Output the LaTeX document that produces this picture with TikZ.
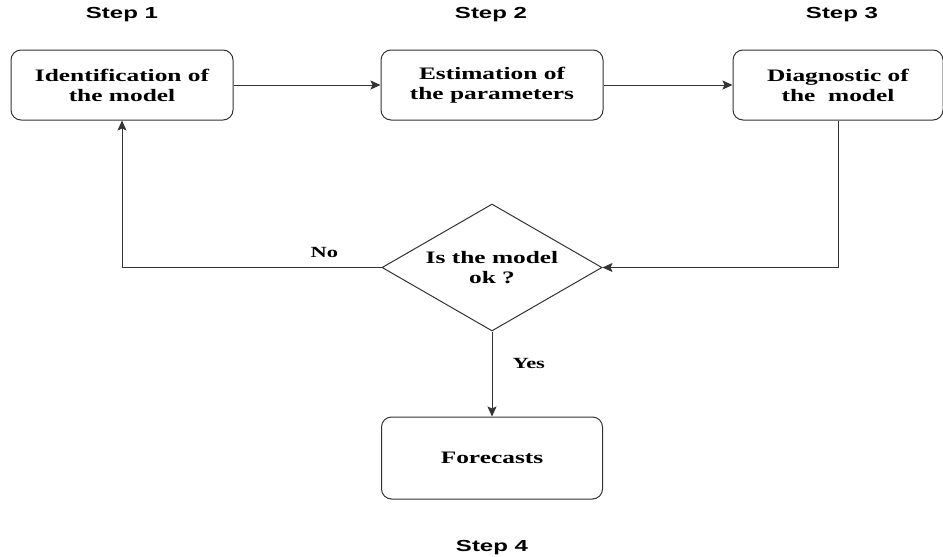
\documentclass[tikz,border=0pt]{standalone}
\usepackage{fontspec}
\newfontfamily\boxfont[FakeStretch=1.45]{Liberation Serif}
\newfontfamily\stepfont[FakeStretch=1.5]{Liberation Sans}
\usetikzlibrary{positioning,shapes.geometric,arrows.meta}
\definecolor{linegray}{HTML}{333333}

\begin{document}
\begin{tikzpicture}
    [x=1pt, y=-1pt,
    node distance=147pt,
    line width=1pt,
    arr/.style={draw=linegray, -{Stealth[length=10pt,width=9pt,inset=2pt]}},
    box/.style={draw=linegray, rounded corners=10pt, minimum width=222pt, minimum height=70pt,
        align=center, inner sep=2pt, font=\boxfont\bfseries\fontsize{17.5}{20}\selectfont},
    decision/.style={draw=linegray, diamond, aspect=1.73, inner sep=0pt, minimum width=220pt,
        minimum height=127pt, align=center, font=\boxfont\bfseries\fontsize{17.5}{20}\selectfont},
    steplabel/.style={inner sep=0pt, font=\stepfont\bfseries\fontsize{16}{18}\selectfont},
    answer/.style={inner sep=0pt, font=\boxfont\bfseries\fontsize{15.5}{18}\selectfont}]
        \useasboundingbox (0,0) rectangle (943,557);
        %% the three steps
        \node[box] (ident) at (122,85) {Identification of\\the model};
        \node[box, right=147pt of ident] (estim) {Estimation of\\the parameters};
        \node[box, right=129pt of estim, minimum width=210pt] (diagn) {Diagnostic of\\the\ \ model};
        %% check and forecast
        \node[decision, below=83pt of estim] (okq) {Is the model\\ok ?};
        \node[box, below=85pt of okq, minimum width=221pt, minimum height=82pt] (fcast) {Forecasts};
        %% step labels
        \node[steplabel] (s1) at (122,15) {Step 1};
        \node[steplabel] (s2) at (491,15) {Step 2};
        \node[steplabel] (s3) at (842,15) {Step 3};
        \node[steplabel, below=40pt of fcast] (s4) {Step 4};

        \draw[arr] (ident) -- (estim);
        \draw[arr] (estim) -- (diagn);
        \draw[arr] (diagn.south) |- (okq.east);
        \draw[arr] (okq.west) -| node[answer, pos=0.11, above=9pt] {No} (ident.south);
        \draw[arr] (okq.south) -- node[answer, pos=0.38, right=20pt] {Yes} (fcast.north);
    \end{tikzpicture}
\end{document}
